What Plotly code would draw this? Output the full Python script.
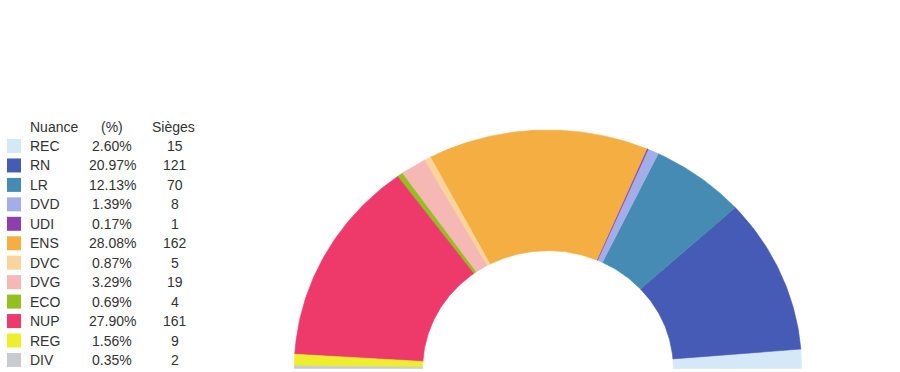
import numpy as np
import plotly.graph_objects as go

# ---- data ----
nuances = ["REC", "RN", "LR", "DVD", "UDI", "ENS", "DVC", "DVG", "ECO", "NUP", "REG", "DIV"]
percents = ["2.60%", "20.97%", "12.13%", "1.39%", "0.17%", "28.08%", "0.87%", "3.29%", "0.69%", "27.90%", "1.56%", "0.35%"]
seats = [15, 121, 70, 8, 1, 162, 5, 19, 4, 161, 9, 2]
colors = ["#d5e8f8", "#465bb6", "#468bb3", "#a3aee8", "#8e3fae", "#f5ae42",
          "#fad49c", "#f5b8b4", "#93c01f", "#ee3a6a", "#eeed2e", "#c8ccd2"]
headers = ["Nuance", "(%)", "Sièges"]

# ---- geometry (pixels) ----
W, H = 900, 372
CX, CY = 548.0, 368.5
RX, RY = 253.7, 238.5
HOLE = 0.494

fig = go.Figure()
total = sum(seats)
cum = np.concatenate([[0], np.cumsum(seats)])
for i, (name, s, col) in enumerate(zip(nuances, seats, colors)):
    t0 = np.pi * cum[i] / total
    t1 = np.pi * cum[i + 1] / total
    n = max(3, int(np.ceil((t1 - t0) / np.pi * 200)) + 2)
    th = np.linspace(t0, t1, n)
    xs = np.concatenate([np.cos(th), HOLE * np.cos(th[::-1])])
    ys = np.concatenate([np.sin(th), HOLE * np.sin(th[::-1])])
    fig.add_trace(go.Scatter(
        x=np.append(xs, xs[0]), y=np.append(ys, ys[0]),
        mode="lines", fill="toself", fillcolor=col,
        line=dict(color=col, width=0.6), name=name,
        hoverinfo="name", showlegend=False))

# axis ranges so that data units map to the pixel geometry
xr = [(0 - CX) / RX, (W - CX) / RX]
yr = [(CY - H) / RY, (CY - 0) / RY]

# ---- legend table ----
def px(x):
    return x / W

def py(y):
    return 1 - y / H

font = dict(family="Liberation Sans, Arial, sans-serif", size=14, color="#333333")
ann = []
shapes = []
HEADER_Y = 126.5
ROW0 = 146.0
STEP = 19.45
col_x = [28, 112, 174]
ann.append(dict(text=headers[0], x=px(col_x[0]), y=py(HEADER_Y), xanchor="left"))
ann.append(dict(text=headers[1], x=px(col_x[1]), y=py(HEADER_Y), xanchor="center"))
ann.append(dict(text=headers[2], x=px(col_x[2] - 1), y=py(HEADER_Y), xanchor="center"))
for i, (name, pct, s, col) in enumerate(zip(nuances, percents, seats, colors)):
    yc = ROW0 + i * STEP
    shapes.append(dict(type="rect", xref="paper", yref="paper",
                       x0=px(7), x1=px(21), y0=py(yc - 7), y1=py(yc + 7),
                       fillcolor=col, line=dict(width=0)))
    ann.append(dict(text=name, x=px(col_x[0]), y=py(yc), xanchor="left"))
    ann.append(dict(text=pct, x=px(col_x[1]), y=py(yc), xanchor="center"))
    ann.append(dict(text=str(s), x=px(col_x[2] + 1), y=py(yc), xanchor="center"))
for a in ann:
    a.update(xref="paper", yref="paper", yanchor="middle", showarrow=False, font=font)

fig.update_layout(
    width=W, height=H,
    margin=dict(l=0, r=0, t=0, b=0),
    paper_bgcolor="white", plot_bgcolor="white",
    xaxis=dict(range=xr, visible=False, fixedrange=True),
    yaxis=dict(range=yr, visible=False, fixedrange=True),
    annotations=ann, shapes=shapes,
    showlegend=False,
)
fig.write_html("out.html",
               config={"displayModeBar": False},
               post_script="document.body.style.margin='0';document.body.style.overflow='hidden';")
